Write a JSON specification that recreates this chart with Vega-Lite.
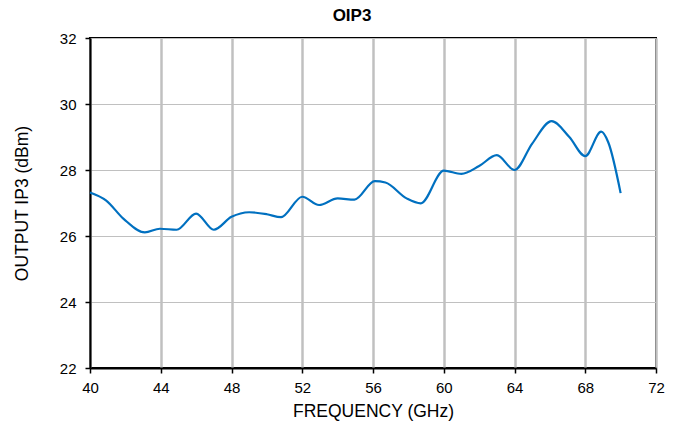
{
  "$schema": "https://vega.github.io/schema/vega-lite/v6.json",
  "autosize": "none",
  "width": 566,
  "height": 330,
  "padding": {"left": 90, "top": 38, "right": 24, "bottom": 58},
  "background": "white",
  "title": {"text": "OIP3", "font": "Liberation Sans", "fontSize": 17, "fontWeight": "bold", "color": "black", "anchor": "middle", "offset": 6, "dx": -21},
  "config": {
    "view": {"stroke": "black", "strokeWidth": 2},
    "axis": {"labelFont": "Liberation Sans", "titleFont": "Liberation Sans", "labelFontSize": 15, "titleFontSize": 17.5, "titleFontWeight": "normal", "labelColor": "black", "titleColor": "black", "domainColor": "black", "domainWidth": 2, "tickColor": "black", "tickSize": 5, "tickWidth": 1.5, "gridColor": "#c0c0c0", "labelFlush": false}
  },
  "data": {"values": [
    {"f": 40.0, "p": 27.32},
    {"f": 40.9, "p": 27.08},
    {"f": 41.9, "p": 26.52},
    {"f": 43.1, "p": 26.11},
    {"f": 43.95, "p": 26.22},
    {"f": 44.9, "p": 26.19},
    {"f": 46.0, "p": 26.68},
    {"f": 47.0, "p": 26.19},
    {"f": 48.0, "p": 26.58},
    {"f": 49.0, "p": 26.72},
    {"f": 50.0, "p": 26.66},
    {"f": 50.8, "p": 26.57},
    {"f": 52.0, "p": 27.19},
    {"f": 52.95, "p": 26.94},
    {"f": 54.0, "p": 27.14},
    {"f": 54.95, "p": 27.1},
    {"f": 56.1, "p": 27.66},
    {"f": 56.7, "p": 27.62},
    {"f": 57.9, "p": 27.14},
    {"f": 58.7, "p": 26.99},
    {"f": 60.0, "p": 27.98},
    {"f": 61.0, "p": 27.88},
    {"f": 62.0, "p": 28.12},
    {"f": 63.0, "p": 28.45},
    {"f": 64.0, "p": 28.0},
    {"f": 65.0, "p": 28.8},
    {"f": 66.1, "p": 29.48},
    {"f": 67.1, "p": 29.0},
    {"f": 68.0, "p": 28.42},
    {"f": 68.9, "p": 29.16},
    {"f": 69.3, "p": 28.84},
    {"f": 70.0, "p": 27.3}
  ]},
  "mark": {"type": "line", "color": "#0070C0", "strokeWidth": 2.2, "interpolate": "monotone"},
  "encoding": {
    "x": {"field": "f", "type": "quantitative", "title": "FREQUENCY (GHz)",
      "scale": {"domain": [40, 72], "nice": false, "zero": false},
      "axis": {"values": [40, 44, 48, 52, 56, 60, 64, 68, 72], "gridWidth": 2.5, "labelPadding": 7, "titlePadding": 7}},
    "y": {"field": "p", "type": "quantitative", "title": "OUTPUT IP3 (dBm)",
      "scale": {"domain": [22, 32], "nice": false, "zero": false},
      "axis": {"values": [22, 24, 26, 28, 30, 32], "gridWidth": 1, "labelPadding": 9, "titlePadding": 28}}
  }
}
